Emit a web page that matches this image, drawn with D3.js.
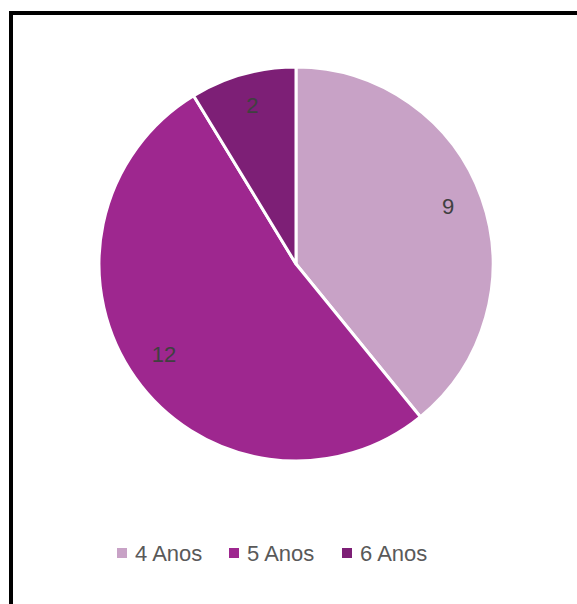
<!DOCTYPE html>
<html>
<head>
<meta charset="utf-8">
<script src="https://cdn.jsdelivr.net/npm/d3@7"></script>
<style>
  body { margin: 0; background: #fff; }
  svg { display: block; }
</style>
</head>
<body>
<div id="chart"></div>
<script>
// data
var categories = ["4 Anos", "5 Anos", "6 Anos"];
var values = [9, 12, 2];
var colors = ["#c8a2c6", "#9e278f", "#7d1f76"];

var width = 577, height = 604;
var cx = 296, cy = 264, radius = 197;

var svg = d3.select("#chart")
  .append("svg")
    .attr("width", width)
    .attr("height", height);

// frame (only top and left edges are inside the picture)
svg.append("rect")
  .attr("x", 11)
  .attr("y", 13)
  .attr("width", 600)
  .attr("height", 640)
  .attr("fill", "none")
  .attr("stroke", "#000")
  .attr("stroke-width", 4);

var color = d3.scaleOrdinal().domain(categories).range(colors);

var pie = d3.pie().sort(null).value(function(d) { return d.value; });
var data = categories.map(function(c, i) { return {name: c, value: values[i]}; });
var arcs = pie(data);

var arc = d3.arc().innerRadius(0).outerRadius(radius);
var labelArc = d3.arc().innerRadius(radius * 0.82).outerRadius(radius * 0.82);

var g = svg.append("g")
  .attr("transform", "translate(" + cx + "," + cy + ")");

g.selectAll("path")
  .data(arcs)
  .enter()
  .append("path")
    .attr("d", arc)
    .attr("fill", function(d) { return color(d.data.name); })
    .attr("stroke", "#fff")
    .attr("stroke-width", 3)
    .attr("stroke-linejoin", "round");

g.selectAll("text")
  .data(arcs)
  .enter()
  .append("text")
    .attr("transform", function(d) { return "translate(" + labelArc.centroid(d) + ")"; })
    .attr("text-anchor", "middle")
    .attr("dy", "0.2em")
    .attr("font-family", "Liberation Sans, Arial, sans-serif")
    .attr("font-size", 22)
    .attr("fill", "#404040")
    .text(function(d) { return d.data.value; });

// legend
var legendX = [117, 229, 342];
var legend = svg.append("g");
var item = legend.selectAll("g")
  .data(categories)
  .enter()
  .append("g")
    .attr("transform", function(d, i) { return "translate(" + legendX[i] + ",553)"; });

item.append("rect")
  .attr("x", 0)
  .attr("y", -5)
  .attr("width", 10)
  .attr("height", 10)
  .attr("fill", function(d) { return color(d); });

item.append("text")
  .attr("x", 18)
  .attr("y", 7.5)
  .attr("font-family", "Liberation Sans, Arial, sans-serif")
  .attr("font-size", 22)
  .attr("fill", "#595959")
  .text(function(d) { return d; });
</script>
</body>
</html>
